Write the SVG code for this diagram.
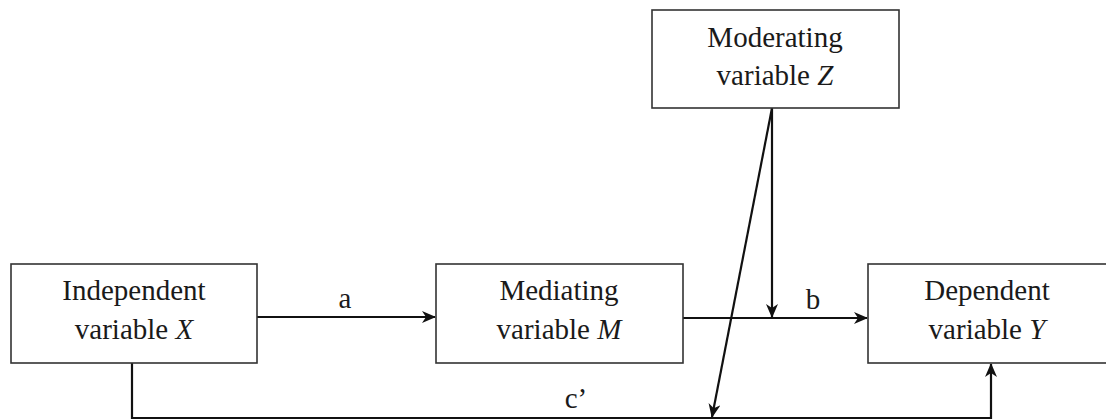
<svg xmlns="http://www.w3.org/2000/svg" width="1106" height="419" viewBox="0 0 1106 419">
  <style>
    .box { fill: #ffffff; stroke: #333333; stroke-width: 1.6; }
    .lbl { font-family: "Liberation Serif", "Times New Roman", serif; font-size: 29px; fill: #1a1a1a; text-anchor: middle; }
    .it { font-style: italic; }
    .edge { fill: none; stroke: #111111; stroke-width: 2.2; }
  </style>
  <defs>
    <marker id="arr" viewBox="0 0 14 12" refX="13" refY="6" markerWidth="14" markerHeight="12" markerUnits="userSpaceOnUse" orient="auto">
      <path d="M0,0 L14,6 L0,12 L4,6 Z" fill="#111111"/>
    </marker>
  </defs>

  <rect width="1106" height="419" fill="#ffffff"/>

  <g id="connectors">
    <!-- a: X to M -->
    <line class="edge" x1="257" y1="317" x2="435" y2="317" marker-end="url(#arr)"/>
    <!-- b: M to Y -->
    <line class="edge" x1="683" y1="318" x2="867" y2="318" marker-end="url(#arr)"/>
    <!-- Z moderates b -->
    <line class="edge" x1="772" y1="108" x2="772" y2="317" marker-end="url(#arr)"/>
    <!-- Z moderates c' -->
    <line class="edge" x1="772" y1="108" x2="712" y2="417" marker-end="url(#arr)"/>
    <!-- c': X to Y direct path -->
    <polyline class="edge" points="132,363 132,418 991,418 991,364" marker-end="url(#arr)"/>
    <text class="lbl" x="345" y="308">a</text>
    <text class="lbl" x="813" y="309">b</text>
    <text class="lbl" x="576" y="408">c’</text>
  </g>

  <g id="node-x">
    <rect class="box" x="11" y="264" width="246" height="99"/>
    <text class="lbl" x="134" y="300">Independent</text>
    <text class="lbl" x="134" y="339">variable <tspan class="it">X</tspan></text>
  </g>

  <g id="node-m">
    <rect class="box" x="436" y="264" width="247" height="99"/>
    <text class="lbl" x="559" y="300">Mediating</text>
    <text class="lbl" x="559" y="339">variable <tspan class="it">M</tspan></text>
  </g>

  <g id="node-y">
    <rect class="box" x="868" y="264" width="250" height="99"/>
    <text class="lbl" x="987" y="300">Dependent</text>
    <text class="lbl" x="987" y="339">variable <tspan class="it">Y</tspan></text>
  </g>

  <g id="node-z">
    <rect class="box" x="652" y="10" width="247" height="98"/>
    <text class="lbl" x="775" y="47">Moderating</text>
    <text class="lbl" x="775" y="85">variable <tspan class="it">Z</tspan></text>
  </g>
</svg>
